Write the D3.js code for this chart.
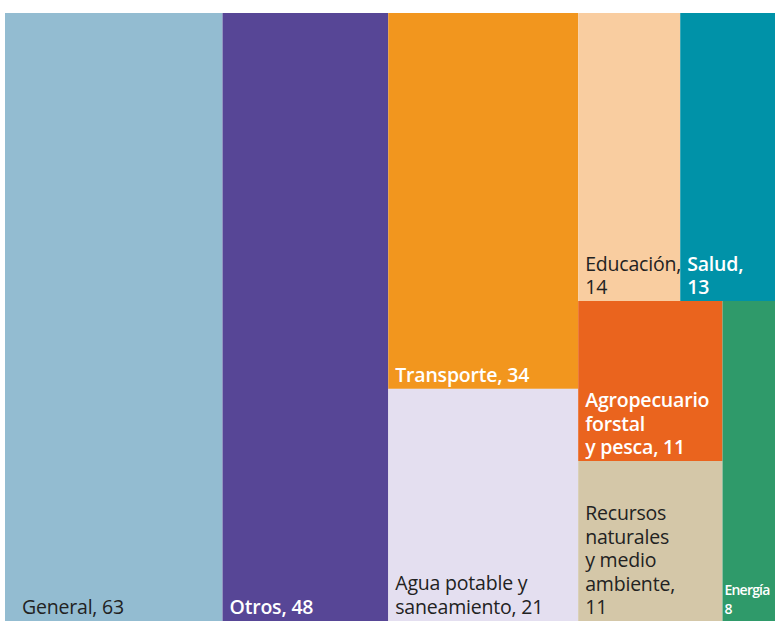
<!DOCTYPE html>
<html lang="es">
<head>
<meta charset="UTF-8" />
<title>Treemap</title>
<style>
  body { margin: 0; background: #fff; }
  text { font-family: "Open Sans", "Noto Sans", sans-serif; }
</style>
</head>
<body>
<div class="chart"></div>
<script src="https://cdn.jsdelivr.net/npm/d3@7"></script>
<script>
var names = ["General", "Otros", "Transporte", "Agua potable y saneamiento", "Educación", "Salud",
             "Agropecuario forstal y pesca", "Recursos naturales y medio ambiente", "Energía"];
var values = [63, 48, 34, 21, 14, 13, 11, 11, 8];
var labelLines = [
  ["General, 63"],
  ["Otros, 48"],
  ["Transporte, 34"],
  ["Agua potable y", "saneamiento, 21"],
  ["Educación,", "14"],
  ["Salud,", "13"],
  ["Agropecuario", "forstal", "y pesca, 11"],
  ["Recursos", "naturales", "y medio", "ambiente,", "11"],
  ["Energía", "8"]
];
var colors = ["#93bcd1", "#574696", "#f2961e", "#e4dff0", "#f9cda0", "#0092a8", "#ea641e", "#d4c7a8", "#2f9a6a"];
var boldLabel = [false, true, true, false, false, true, true, false, true];

var width = 775, height = 621;
var margin = { top: 13, left: 5, right: 0, bottom: 0 };

function leaf(i) {
  return { name: names[i], value: values[i], idx: i };
}

// nested so slice/dice gives the column layout of the original
var tree = {
  name: "root",
  children: [
    leaf(0),
    leaf(1),
    { name: "g1", children: [leaf(2), leaf(3)] },
    { name: "g2", children: [
      { name: "top", children: [leaf(4), leaf(5)] },
      { name: "bottom", children: [
        { name: "col", children: [leaf(6), leaf(7)] },
        leaf(8)
      ] }
    ] }
  ]
};

var root = d3.hierarchy(tree).sum(function(d) { return d.value || 0; });

d3.treemap()
  .tile(d3.treemapSliceDice)
  .size([width - margin.left - margin.right, height - margin.top - margin.bottom])
  (root);

var svg = d3.select(".chart").append("svg")
  .attr("width", width)
  .attr("height", height)
  .append("g")
  .attr("transform", "translate(" + margin.left + "," + margin.top + ")");

var cell = svg.selectAll("g.cell")
  .data(root.leaves())
  .enter()
  .append("g")
  .attr("class", "cell")
  .attr("transform", function(d) { return "translate(" + d.x0 + "," + d.y0 + ")"; });

cell.append("rect")
  .attr("width", function(d) { return d.x1 - d.x0; })
  .attr("height", function(d) { return d.y1 - d.y0; })
  .attr("fill", function(d) { return colors[d.data.idx]; });

cell.each(function(d) {
  var i = d.data.idx;
  var lines = labelLines[i];
  var small = i == 8;
  var fs = small ? 14 : 19.5;
  var lh = small ? 19 : 23.5;
  var h = d.y1 - d.y0;
  var dx = i == 0 ? 17 : (small ? 2 : 7);
  var t = d3.select(this).append("text")
    .attr("fill", boldLabel[i] ? "#fff" : "#222")
    .attr("font-weight", boldLabel[i] ? 600 : 400)
    .attr("font-size", fs + "px")
    .attr("letter-spacing", small ? "-0.8px" : "-0.2px");
  lines.forEach(function(l, k) {
    t.append("tspan")
      .attr("x", dx)
      .attr("y", h - 7 - (lines.length - 1 - k) * lh)
      .text(l);
  });
});
</script>
</body>
</html>
